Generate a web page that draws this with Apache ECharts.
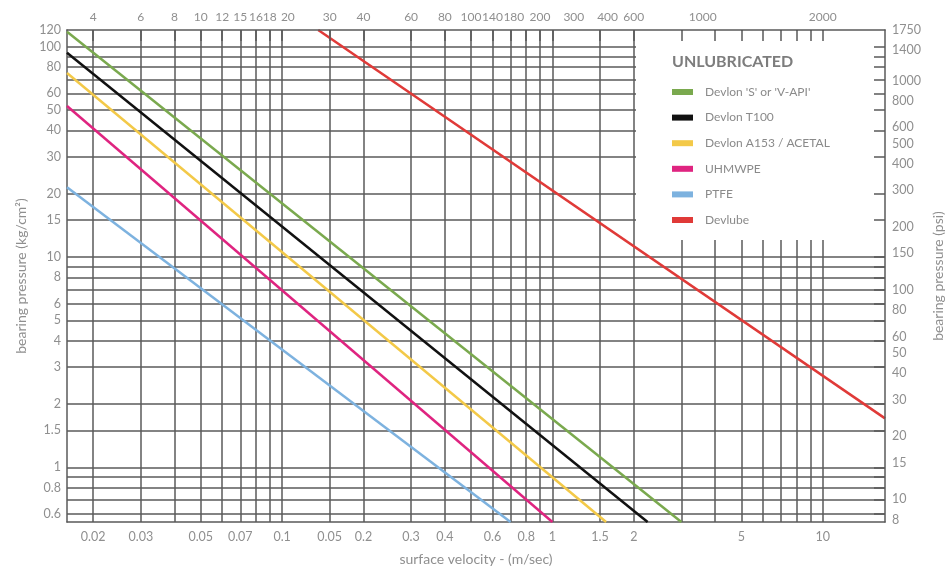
<!DOCTYPE html>
<html>
<head>
<meta charset="utf-8">
<script src="https://cdn.jsdelivr.net/npm/echarts@6/dist/echarts.min.js"></script>
<style>
html,body{margin:0;padding:0;background:#ffffff;}
#chart{width:947px;height:569px;}
</style>
</head>
<body>
<div id="chart"></div>
<script>
// ---------- data ----------
const seriesNames = ["Devlon 'S' or 'V-API'", 'Devlon T100', 'Devlon A153 / ACETAL', 'UHMWPE', 'PTFE', 'Devlube'];
// [surface velocity m/s, bearing pressure kg/cm2] end points of each straight limit line
const devlonS   = [[0.016, 117.8], [3.0, 0.55]];
const devlonT100 = [[0.016, 93.7], [2.25, 0.55]];
const devlonA153 = [[0.016, 75.0], [1.58, 0.55]];
const uhmwpe    = [[0.016, 52.3], [1.0, 0.55]];
const ptfe      = [[0.016, 21.5], [0.7, 0.55]];
const devlube   = [[0.136, 120.1], [17, 1.71]];

// axis ranges
const velocityRange = [0.016, 17];
const pressureRange = [0.55, 120.1];
const psiRange = [7.8, 1751];

// grid lines
const velocityGridLines = [0.02, 0.03, 0.04, 0.05, 0.06, 0.07, 0.08, 0.09, 0.1, 0.15, 0.2, 0.3, 0.4, 0.5, 0.6, 0.7, 0.8, 0.9, 1, 1.5, 2, 3, 4, 5, 6, 7, 8, 9, 10];
const pressureGridLines = [100, 90, 80, 70, 60, 50, 40, 30, 20, 15, 10, 9, 8, 7, 6, 5, 4, 3, 2, 1.5, 1, 0.9, 0.8, 0.7, 0.6];

// tick labels
const velocityTickValues = [0.02, 0.03, 0.05, 0.07, 0.1, 0.15, 0.2, 0.3, 0.4, 0.6, 0.8, 1, 1.5, 2, 5, 10];
const velocityTickLabels = ['0.02', '0.03', '0.05', '0.07', '0.1', '0.05', '0.2', '0.3', '0.4', '0.6', '0.8', '1', '1.5', '2', '5', '10'];
const ftminTickAt = [0.02, 0.03, 0.04, 0.05, 0.06, 0.07, 0.08, 0.09, 0.105, 0.15, 0.2, 0.3, 0.4, 0.5, 0.6, 0.72, 0.9, 1.2, 1.6, 2.0, 3.6, 10];
const ftminTickLabels = ['4', '6', '8', '10', '12', '15', '16', '18', '20', '30', '40', '60', '80', '100', '140', '180', '200', '300', '400', '600', '1000', '2000'];
const kgTickValues = [120, 100, 80, 60, 50, 40, 30, 20, 15, 10, 8, 6, 5, 4, 3, 2, 1.5, 1, 0.8, 0.6];
const psiTickValues = [1750, 1400, 1000, 800, 600, 500, 400, 300, 200, 150, 100, 80, 60, 50, 40, 30, 20, 15, 10, 8];

const seriesColors = ['#7aa94e', '#111111', '#f3c948', '#df2480', '#7db2df', '#e03a38'];

// ---------- chart ----------
const FONT = 'Lato, "Noto Sans", sans-serif';
const GRID_COLOR = '#5a5a5a';
const LABEL_COLOR = '#8f8f8f';

function lookup(values, labels) {
  return function (v) {
    for (let i = 0; i < values.length; i++) {
      if (Math.abs(Math.log(v / values[i])) < 1e-4) return labels[i];
    }
    return '';
  };
}

const gridLineStyle = { color: GRID_COLOR, width: 1.5 };
const labelStyle = { fontFamily: FONT, fontSize: 12.5, color: LABEL_COLOR };
const nameStyle = { fontFamily: FONT, fontSize: 14, color: LABEL_COLOR };

const seriesData = [devlonS, devlonT100, devlonA153, uhmwpe, ptfe, devlube];

const option = {
  animation: false,
  backgroundColor: '#ffffff',
  title: {
    text: 'UNLUBRICATED',
    left: 672, top: 53, padding: 0,
    textStyle: { fontFamily: FONT, fontSize: 16, fontWeight: 'bold', color: '#7d7d7d', lineHeight: 18 }
  },
  legend: {
    orient: 'vertical',
    left: 636, top: 31,
    padding: [54, 70, 13, 36],
    backgroundColor: '#ffffff',
    itemWidth: 21, itemHeight: 6, itemGap: 11.6,
    icon: 'rect',
    textStyle: { fontFamily: FONT, fontSize: 12, color: '#8a8a8a', lineHeight: 14, padding: [0, 0, 0, 7] },
    data: seriesNames
  },
  grid: { left: 67, right: 62, top: 30, bottom: 47, outerBoundsMode: 'none' },
  xAxis: [
    {
      type: 'log', position: 'bottom',
      min: velocityRange[0], max: velocityRange[1],
      axisLine: { show: true, lineStyle: gridLineStyle },
      axisTick: { show: false, customValues: velocityGridLines },
      axisLabel: { customValues: velocityTickValues, formatter: lookup(velocityTickValues, velocityTickLabels), margin: 8, ...labelStyle },
      splitLine: { show: true, lineStyle: gridLineStyle },
      name: 'surface velocity - (m/sec)', nameLocation: 'middle', nameGap: 30, nameTextStyle: nameStyle
    },
    {
      type: 'log', position: 'top', z: 10,
      min: velocityRange[0], max: velocityRange[1],
      axisLine: { show: true, lineStyle: gridLineStyle },
      axisTick: { show: true, inside: true, length: 11, customValues: velocityGridLines, lineStyle: gridLineStyle },
      axisLabel: { customValues: ftminTickAt, formatter: lookup(ftminTickAt, ftminTickLabels), margin: 7, fontFamily: FONT, fontSize: 12, color: LABEL_COLOR },
      splitLine: { show: false }
    }
  ],
  yAxis: [
    {
      type: 'log', position: 'left',
      min: pressureRange[0], max: pressureRange[1],
      axisLine: { show: true, lineStyle: gridLineStyle },
      axisTick: { show: false, customValues: pressureGridLines },
      axisLabel: { customValues: kgTickValues, formatter: lookup(kgTickValues, kgTickValues.map(String)), margin: 6, ...labelStyle },
      splitLine: { show: true, lineStyle: gridLineStyle },
      name: 'bearing pressure (kg/cm²)', nameLocation: 'middle', nameGap: 38, nameTextStyle: nameStyle
    },
    {
      type: 'log', position: 'right', z: 10,
      min: psiRange[0], max: psiRange[1],
      axisLine: { show: true, lineStyle: gridLineStyle },
      axisTick: { show: false },
      axisLabel: { customValues: psiTickValues, formatter: lookup(psiTickValues, psiTickValues.map(String)), margin: 7, ...labelStyle },
      splitLine: { show: false },
      name: 'bearing pressure (psi)', nameLocation: 'middle', nameGap: 42, nameTextStyle: nameStyle
    },
    {
      type: 'log', position: 'right', z: 10,
      min: pressureRange[0], max: pressureRange[1],
      axisLine: { show: false },
      axisTick: { show: true, inside: true, length: 11, customValues: pressureGridLines, lineStyle: gridLineStyle },
      axisLabel: { show: false },
      splitLine: { show: false }
    }
  ],
  series: seriesNames.map((name, i) => ({
    name: name,
    type: 'line',
    xAxisIndex: 0,
    yAxisIndex: 0,
    data: seriesData[i],
    showSymbol: false,
    symbol: 'none',
    color: seriesColors[i],
    lineStyle: { color: seriesColors[i], width: 2.5 },
    z: 3
  }))
};

const chart = echarts.init(document.getElementById('chart'), null, { renderer: 'canvas' });
chart.setOption(option);
</script>
</body>
</html>
